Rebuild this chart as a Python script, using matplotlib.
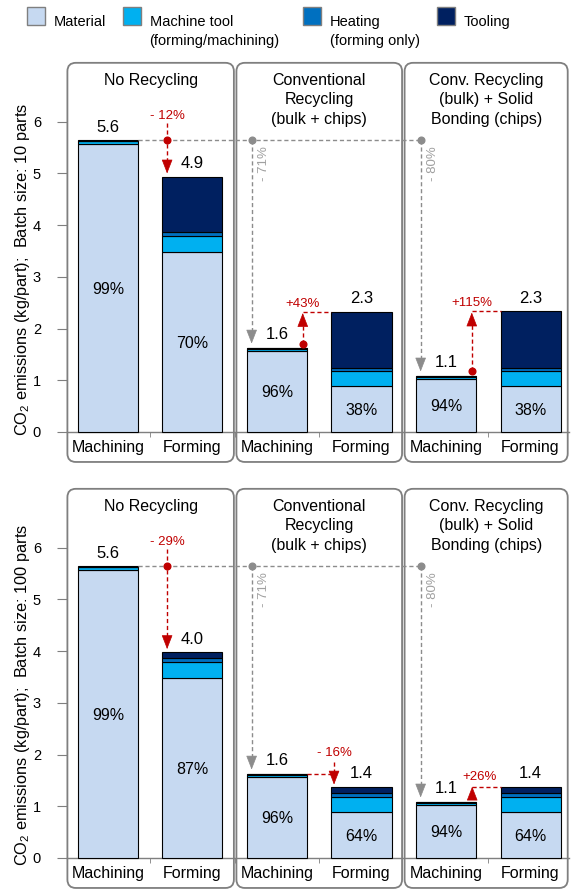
import numpy as np
import matplotlib
matplotlib.use("Agg")
import matplotlib.pyplot as plt
from matplotlib.patches import FancyBboxPatch, Rectangle

plt.rcParams['font.family'] = ['Liberation Sans', 'DejaVu Sans']

categories = ["Machining", "Forming", "Machining", "Forming", "Machining", "Forming"]
panel_titles = ["No Recycling",
                "Conventional\nRecycling\n(bulk + chips)",
                "Conv. Recycling\n(bulk) + Solid\nBonding (chips)"]
legend_names = ["Material", "Machine tool\n(forming/machining)", "Heating\n(forming only)", "Tooling"]
colors = ["#C6D9F1", "#00B0F0", "#0070C0", "#002060"]

# batch size 10 parts (kg CO2 / part)
material_10 = [5.57, 3.48, 1.56, 0.88, 1.02, 0.88]
machine_10 = [0.05, 0.31, 0.05, 0.29, 0.05, 0.29]
heating_10 = [0.01, 0.07, 0.01, 0.06, 0.01, 0.06]
tooling_10 = [0.01, 1.08, 0.01, 1.10, 0.01, 1.11]
totals_txt_10 = ["5.6", "4.9", "1.6", "2.3", "1.1", "2.3"]
shares_txt_10 = ["99%", "70%", "96%", "38%", "94%", "38%"]

# batch size 100 parts
material_100 = [5.57, 3.48, 1.56, 0.88, 1.02, 0.88]
machine_100 = [0.05, 0.31, 0.05, 0.30, 0.05, 0.30]
heating_100 = [0.01, 0.07, 0.01, 0.08, 0.01, 0.08]
tooling_100 = [0.01, 0.12, 0.01, 0.12, 0.01, 0.12]
totals_txt_100 = ["5.6", "4.0", "1.6", "1.4", "1.1", "1.4"]
shares_txt_100 = ["99%", "87%", "96%", "64%", "94%", "64%"]

RED = "#C00000"
GREY = "#8C8C8C"
GREY_TXT = "#A0A0A0"
EDGE = "#7F7F7F"

W, H = 572, 889
PX_X = 84.5   # px per category
PX_Y = 51.7   # px per kg
HW = 0.355    # half bar width
L = 12 / PX_Y  # arrow head length in data units
box_edges = [(-0.48, 1.49), (1.52, 3.48), (3.51, 5.44)]


def dashed(ax, xs, ys, color):
    ax.plot(xs, ys, color=color, linewidth=1, linestyle=(0, (3, 2)), zorder=4, clip_on=False)


def head(ax, x, tip, up, color):
    base = tip - L if up else tip + L
    ax.annotate("", xy=(x, tip), xytext=(x, base),
                arrowprops=dict(arrowstyle="-|>,head_length=0.9,head_width=0.35", mutation_scale=10,
                                color=color, lw=0.5, shrinkA=0, shrinkB=0), zorder=6)


def dot(ax, x, y, color):
    ax.plot([x], [y], "o", color=color, markersize=4.8, zorder=6, clip_on=False)


def draw_chart(ax, material, machine, heating, tooling, totals_txt, shares_txt, ylabel):
    x = np.arange(len(categories))
    bottom = np.zeros(len(x))
    for vals, col in zip([material, machine, heating, tooling], colors):
        ax.bar(x, vals, 2 * HW, bottom=bottom, color=col, edgecolor="black", linewidth=0.8, zorder=3)
        bottom = bottom + np.array(vals)
    for i in x:
        ax.text(i, bottom[i] + 0.16, totals_txt[i], ha="center", va="baseline", fontsize=12, zorder=5)
        ax.text(i, material[i] / 2 - 0.11, shares_txt[i], ha="center", va="baseline", fontsize=11.5, zorder=5)

    for k, (x0, x1) in enumerate(box_edges):
        ax.add_patch(FancyBboxPatch((x0, -0.58), x1 - x0, 7.72, boxstyle="round,pad=0,rounding_size=0.1",
                                    mutation_aspect=PX_X / PX_Y, facecolor="none", edgecolor=EDGE,
                                    linewidth=1.3, clip_on=False, zorder=1))
        for j, line in enumerate(panel_titles[k].split("\n")):
            ax.text((x0 + x1) / 2, 6.71 - j * 0.375, line, ha="center", va="baseline", fontsize=11.5)

    ax.set_xlim(-0.48, 5.46)
    ax.set_ylim(-0.6, 7.16)
    ax.set_yticks(range(7))
    ax.set_xticks(x, categories)
    ax.set_xticks([0.5, 1.5, 2.5, 3.5, 4.5], minor=True)
    ax.tick_params(axis="x", which="major", length=0, labelsize=11.5, pad=6)
    ax.tick_params(axis="x", which="minor", length=3.5, color=EDGE, direction="out")
    ax.tick_params(axis="y", length=7, color=EDGE, labelsize=10.5, pad=12)
    for s in ["top", "right", "left"]:
        ax.spines[s].set_visible(False)
    ax.spines["bottom"].set_position(("data", 0))
    ax.spines["bottom"].set_color(EDGE)
    ax.spines["bottom"].set_linewidth(1)
    ax.set_ylabel(ylabel, fontsize=11.8)
    ax.yaxis.set_label_coords(-0.07, 0.483)

    # grey reduction arrows from the machining reference
    ref = bottom[0]
    dashed(ax, [HW, 4 - 0.3], [ref, ref], GREY)
    for i, lab in [(2, "- 71%"), (4, "- 80%")]:
        xl = i - 0.3
        dot(ax, xl, ref, GREY)
        dashed(ax, [xl, xl], [ref, bottom[i] + 0.08 + L], GREY)
        head(ax, xl, bottom[i] + 0.08, False, GREY)
        ax.text(xl + 0.15, ref - 0.45, lab, rotation=90, ha="center", va="center", color=GREY_TXT, fontsize=9.5)
    return bottom


fig = plt.figure(figsize=(W / 100, H / 100), dpi=100)
ax1 = fig.add_axes([67.4 / W, 0.47919, 502 / W, 0.4513])
ax2 = fig.add_axes([67.4 / W, 0.0, 502 / W, 0.4513])

t = draw_chart(ax1, material_10, machine_10, heating_10, tooling_10, totals_txt_10, shares_txt_10,
               "CO$_\\mathregular{2}$ emissions (kg/part);  Batch size: 10 parts")
xr = 1 - 0.3
dot(ax1, xr, t[0], RED)
dashed(ax1, [xr, xr], [5.97, t[1] + 0.06 + L], RED)
head(ax1, xr, t[1] + 0.06, False, RED)
ax1.text(xr, 6.05, "- 12%", ha="center", va="baseline", color=RED, fontsize=9.5)
for i, lab in [(2, "+43%"), (4, "+115%")]:
    xu = i + 0.305
    dot(ax1, xu, t[i] + 0.08, RED)
    dashed(ax1, [xu, xu], [t[i] + 0.08, t[i + 1] - 0.03 - L], RED)
    head(ax1, xu, t[i + 1] - 0.03, True, RED)
    dashed(ax1, [xu, i + 1 - HW], [t[i + 1], t[i + 1]], RED)
    ax1.text(xu, t[i + 1] + 0.09, lab, ha="center", va="baseline", color=RED, fontsize=9.5)

t = draw_chart(ax2, material_100, machine_100, heating_100, tooling_100, totals_txt_100, shares_txt_100,
               "CO$_\\mathregular{2}$ emissions (kg/part);  Batch size: 100 parts")
dot(ax2, xr, t[0], RED)
dashed(ax2, [xr, xr], [5.97, t[1] + 0.06 + L], RED)
head(ax2, xr, t[1] + 0.06, False, RED)
ax2.text(xr, 6.05, "- 29%", ha="center", va="baseline", color=RED, fontsize=9.5)
xd = 3 - 0.325
dashed(ax2, [2 + HW, xd], [t[2], t[2]], RED)
dashed(ax2, [xd, xd], [t[2] + 0.23, t[3] + 0.04 + L], RED)
head(ax2, xd, t[3] + 0.04, False, RED)
ax2.text(xd, t[2] + 0.34, "- 16%", ha="center", va="baseline", color=RED, fontsize=9.5)
xu = 4 + 0.31
head(ax2, xu, t[5], True, RED)
dashed(ax2, [xu, 5 - HW], [t[5], t[5]], RED)
ax2.text(xu + 0.09, t[5] + 0.13, "+26%", ha="center", va="baseline", color=RED, fontsize=9.5)

# legend
legend_x = [27, 123, 303, 437]
for name, col, px in zip(legend_names, colors, legend_x):
    fig.patches.append(Rectangle((px / W, 1 - 25 / H), 18 / W, 18 / H, transform=fig.transFigure,
                                 facecolor=col, edgecolor=EDGE, linewidth=1))
    for j, line in enumerate(name.split("\n")):
        fig.text((px + 26.5) / W, 1 - (26 + j * 18.5) / H, line, ha="left", va="baseline", fontsize=10.5)

fig.savefig("out.png", dpi=100)
